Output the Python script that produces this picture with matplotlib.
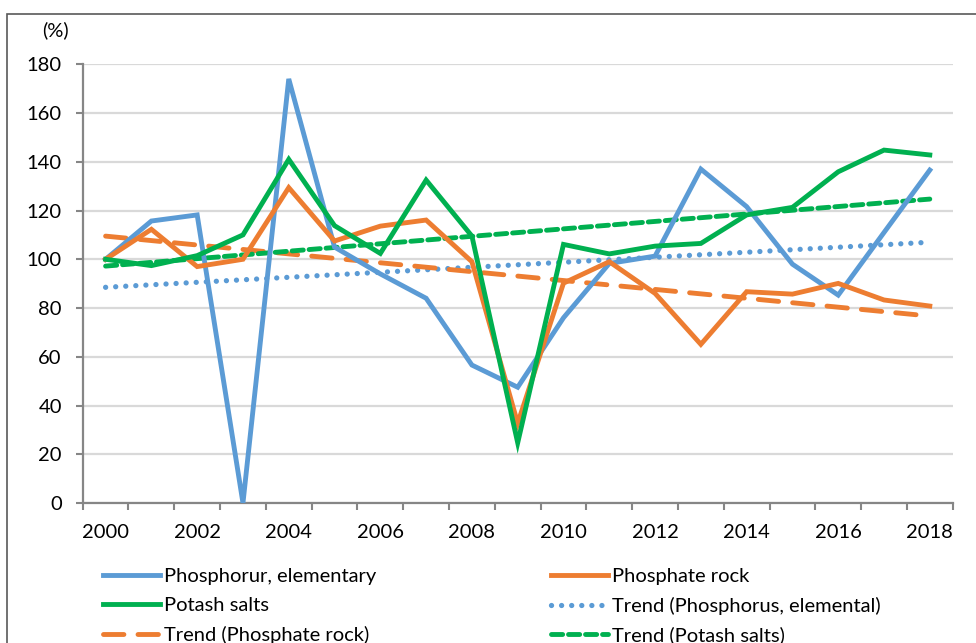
import matplotlib
matplotlib.use('Agg')
import matplotlib.pyplot as plt
from matplotlib.patches import Rectangle
from matplotlib.lines import Line2D
import numpy as np

plt.rcParams['font.family'] = ['Lato', 'DejaVu Sans']

years = list(range(2000, 2019))
phosphorus = [100, 115.7, 118.2, 0, 174, 105, 94, 84, 56.6, 47.5,
              76, 98.3, 101.3, 137, 121.6, 98, 85.3, 111, 136.6]
phosphate_rock = [100, 112.3, 97, 100, 129.4, 107.5, 113.6, 116.1, 99, 32.7,
                  90.2, 99, 86, 65.1, 86.7, 85.7, 90.1, 83.3, 80.8]
potash = [100, 97.4, 101.5, 110, 141, 113.8, 102.4, 132.5, 109.5, 24.7,
          106.1, 102.2, 105.4, 106.5, 118.2, 121.3, 135.9, 144.8, 142.8]

# trend lines (start / end value)
trend_years = [2000, 2018]
trend_phosphorus = [88.5, 107.0]
trend_rock = [109.5, 76.7]
trend_potash = [97.2, 124.7]

labels = ['Phosphorur, elementary', 'Phosphate rock', 'Potash salts',
          'Trend (Phosphorus, elemental)', 'Trend (Phosphate rock)',
          'Trend (Potash salts)']

blue = '#5B9BD5'
orange = '#ED7D31'
green = '#00B050'

W, H = 976, 643
fig = plt.figure(figsize=(W / 100, H / 100), dpi=100)
ax = fig.add_axes([82.7 / W, 1 - 503 / H, 870 / W, (503 - 64.3) / H])

x = np.arange(len(years))
tx = [years.index(y) for y in trend_years]
lw = 3.5
fs = 14.5
dot = (0, (0.01, 1.9))
dash_long = (0, (4.2, 2.9))
dash_short = (0, (2.3, 1.2))

ax.plot(tx, trend_phosphorus, color=blue, lw=lw + 0.3, linestyle=dot,
        dash_capstyle='round', zorder=3)
ax.plot(tx, trend_rock, color=orange, lw=lw, linestyle=dash_long,
        dash_capstyle='round', zorder=3)
ax.plot(tx, trend_potash, color=green, lw=lw, linestyle=dash_short,
        dash_capstyle='round', zorder=3)

ax.plot(x, phosphorus, color=blue, lw=lw, solid_joinstyle='miter', zorder=4)
ax.plot(x, phosphate_rock, color=orange, lw=lw, solid_joinstyle='miter', zorder=5)
ax.plot(x, potash, color=green, lw=lw, solid_joinstyle='miter', zorder=6)

ax.set_xlim(-0.5, len(years) - 0.5)
ax.set_ylim(0, 180)
ax.set_yticks(range(0, 181, 20))
ax.set_xticks(x[::2])
ax.set_xticklabels([str(y) for y in years[::2]])
ax.set_xticks(np.arange(-0.5, len(years), 1.0), minor=True)
ax.tick_params(axis='x', which='major', length=0, pad=15, labelsize=fs)
ax.tick_params(axis='x', which='minor', length=5, width=1.5, color='#868686', direction='out')
ax.tick_params(axis='y', length=5, width=1.5, color='#868686', pad=10, labelsize=fs)

ax.grid(axis='y', color='#D9D9D9', lw=1.6, zorder=0)
ax.set_axisbelow(True)
for s in ['top', 'right']:
    ax.spines[s].set_visible(False)
for s in ['left', 'bottom']:
    ax.spines[s].set_color('#868686')
    ax.spines[s].set_linewidth(1.6)

fig.text(55 / W, 1 - 30 / H, '(%)', fontsize=fs, ha='center', va='center')

# legend, Excel style (row-wise order)
handles = [
    Line2D([], [], color=blue, lw=lw),
    Line2D([], [], color=orange, lw=lw),
    Line2D([], [], color=green, lw=lw),
    Line2D([], [], color=blue, lw=lw + 0.3, linestyle=dot, dash_capstyle='round'),
    Line2D([], [], color=orange, lw=lw, linestyle=dash_long, dash_capstyle='round'),
    Line2D([], [], color=green, lw=lw, linestyle=dash_short, dash_capstyle='round'),
]
order = [0, 2, 4, 1, 3, 5]
leg = fig.legend([handles[i] for i in order], [labels[i] for i in order],
                 ncol=2, loc='upper left', bbox_to_anchor=(95 / W, 1 - 560 / H),
                 frameon=False, fontsize=fs, handlelength=2.85, handletextpad=0.2,
                 columnspacing=8.65, labelspacing=0.58, borderaxespad=0)

fig.add_artist(Rectangle((7 / W, -0.2), 1.2, 1.2 - 14 / H, transform=fig.transFigure,
                         fill=False, edgecolor='#595959', lw=1.2))

fig.savefig('out.png', dpi=100)
